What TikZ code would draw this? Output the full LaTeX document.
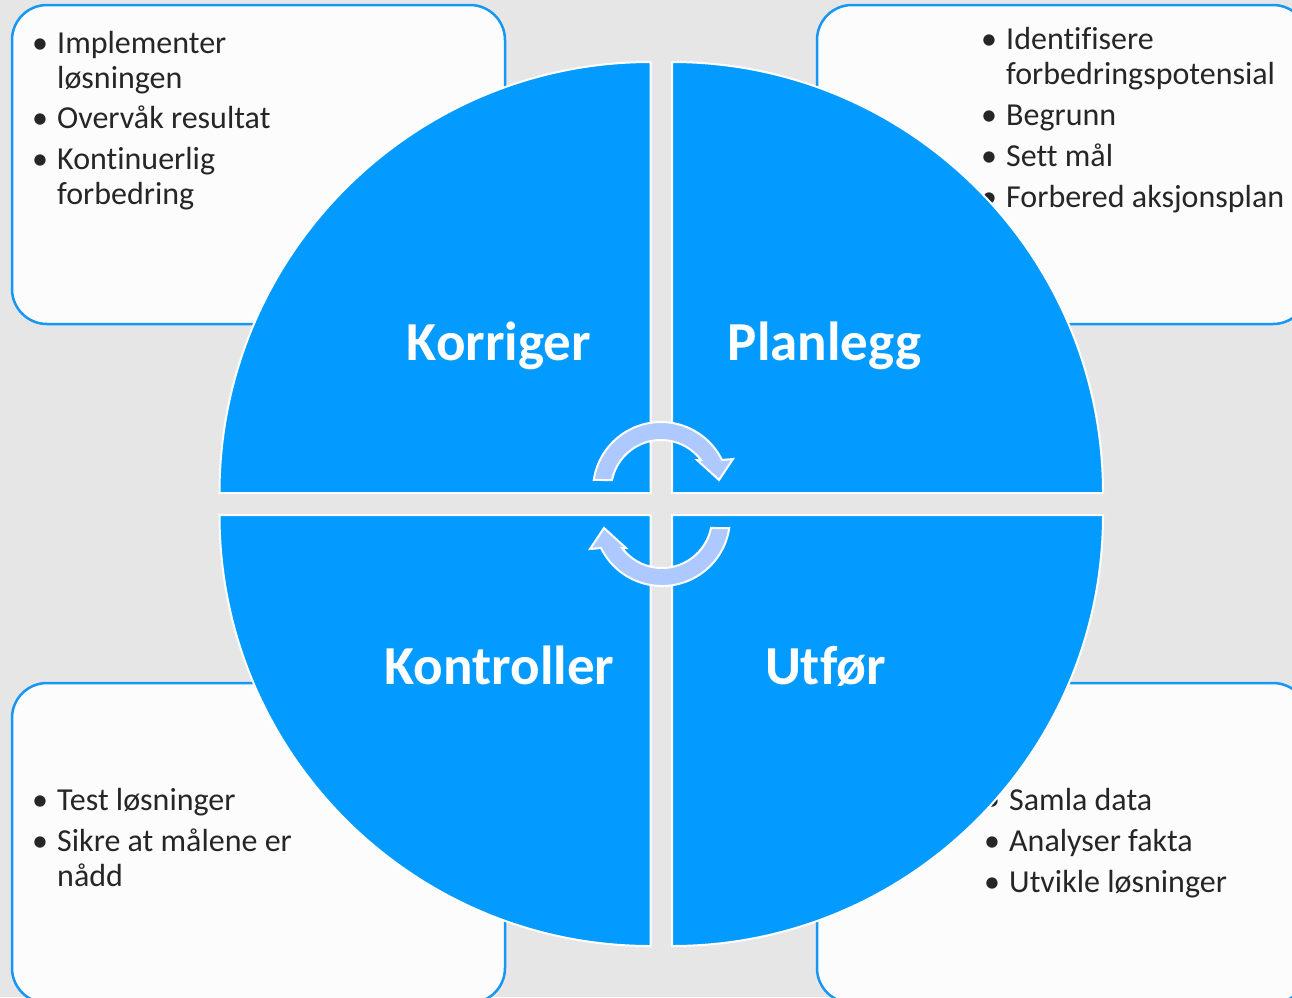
\documentclass[tikz,border=0pt]{standalone}
\usepackage{fontspec}
\setmainfont{Carlito}[RawFeature={-liga;-clig;-dlig;-calt}]
\definecolor{bg}{RGB}{230,230,230}
\definecolor{qblue}{RGB}{3,155,255}
\definecolor{bord}{RGB}{22,150,245}
\definecolor{boxfill}{RGB}{252,252,252}
\definecolor{arrowfill}{RGB}{173,201,255}
\definecolor{txt}{RGB}{38,38,38}
\newcommand{\bul}{\llap{\makebox[34pt]{•}}}
\begin{document}
\begin{tikzpicture}[x=1pt,y=-1pt,
  infobox/.style={draw=bord, line width=2.5pt, fill=boxfill, rounded corners=35pt},
  quad/.style={fill=qblue, draw=white, line width=2pt},
  cyc/.style={fill=arrowfill, draw=white, line width=2pt, line join=miter},
  itemtext/.style={anchor=base west, inner sep=0pt, text=txt, font=\fontsize{32}{38}\selectfont},
  head/.style={anchor=base, inner sep=0pt, text=white, font=\bfseries\fontsize{55}{60}\selectfont}]
\fill[bg] (0,0) rectangle (1292,997);
\useasboundingbox (0,0) rectangle (1292,997);

% corner boxes
\draw[infobox] (12,5) rectangle (505,324);
\draw[infobox] (817,5) rectangle (1308,324);
\draw[infobox] (12,683) rectangle (505,1003);
\draw[infobox] (817,683) rectangle (1308,1003);

% box texts
\node[itemtext] (tl1) at (57,53) {\bul Implementer};
\node[itemtext] (tl2) at (57,88) {løsningen};
\node[itemtext] (tl3) at (57,128) {\bul Overvåk resultat};
\node[itemtext] (tl4) at (57,169) {\bul Kontinuerlig};
\node[itemtext] (tl5) at (57,204) {forbedring};

\node[itemtext] (tr1) at (1006,49) {\bul Identifisere};
\node[itemtext] (tr2) at (1006,84) {forbedringspotensial};
\node[itemtext] (tr3) at (1006,125) {\bul Begrunn};
\node[itemtext] (tr4) at (1006,166) {\bul Sett mål};
\node[itemtext] (tr5) at (1006,207) {\bul Forbered aksjonsplan};

\node[itemtext] (bl1) at (57,810) {\bul Test løsninger};
\node[itemtext] (bl2) at (57,851) {\bul Sikre at målene er};
\node[itemtext] (bl3) at (57,886) {nådd};

\node[itemtext] (br1) at (1009,810) {\bul Samla data};
\node[itemtext] (br2) at (1009,851) {\bul Analyser fakta};
\node[itemtext] (br3) at (1009,892) {\bul Utvikle løsninger};

% quadrants
\draw[quad] (650.5,493) -- ++(-431,0) arc[start angle=180, end angle=270, radius=431] -- cycle;
\draw[quad] (672,493) -- ++(0,-431) arc[start angle=270, end angle=360, radius=431] -- cycle;
\draw[quad] (672,515) -- ++(431,0) arc[start angle=0, end angle=90, radius=431] -- cycle;
\draw[quad] (650.5,515) -- ++(0,431) arc[start angle=90, end angle=180, radius=431] -- cycle;

% headings
\node[head] (korr) at (499,360) {Korriger};
\node[head] (plan) at (824.5,360) {Planlegg};
\node[head] (kont) at (499.5,684) {Kontroller};
\node[head] (utf) at (825.5,684) {Utfør};

% cycle arrows
\draw[cyc] (593.75,479.95) arc[start angle=-171.5, end angle=-26.2, radius=68]
  -- (733,459) -- (719,480) -- (697,460) -- (701,460)
  arc[start angle=-36.87, end angle=-168.5, radius=50] -- cycle;
\draw[cyc] (729.25,528.05) arc[start angle=8.5, end angle=153.8, radius=68]
  -- (590,549) -- (604,528) -- (626,548) -- (622,548)
  arc[start angle=143.13, end angle=11.5, radius=50] -- cycle;
\end{tikzpicture}
\end{document}
